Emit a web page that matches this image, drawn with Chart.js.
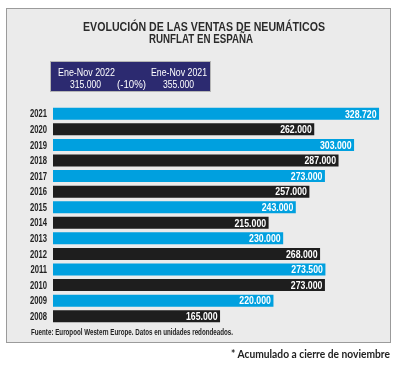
<!DOCTYPE html>
<html><head><meta charset="utf-8">
<script src="https://cdn.jsdelivr.net/npm/chart.js@4/dist/chart.umd.min.js"></script>
<style>
html,body{margin:0;padding:0;background:#fff;width:409px;height:366px;overflow:hidden;}
#panel{position:absolute;left:6px;top:8px;width:383px;height:333px;background:#ebebeb;border:1px solid #9b9b9b;}
#box{position:absolute;left:50px;top:60.5px;width:159px;height:29px;background:#2c2a70;border:1px solid #b5b5b5;}
.t{position:absolute;white-space:nowrap;transform-origin:0 0;}
canvas{position:absolute;left:0;top:0;}
</style></head>
<body>
<div id="panel"></div>
<div id="box"></div>
<canvas id="c" width="409" height="366"></canvas>
<script>
const years = ["2021","2020","2019","2018","2017","2016","2015","2014","2013","2012","2011","2010","2009","2008"];
const sales = [328720,262000,303000,287000,273000,257000,243000,215000,230000,268000,273500,273000,220000,165000];
const valueLabels = ["328.720","262.000","303.000","287.000","273.000","257.000","243.000","215.000","230.000","268.000","273.500","273.000","220.000","165.000"];
const titleLines = ["EVOLUCIÓN DE LAS VENTAS DE NEUMÁTICOS","RUNFLAT EN ESPAÑA"];
const boxTexts = ["Ene-Nov 2022","Ene-Nov 2021","315.000","(-10%)","355.000"];
const sourceText = "Fuente: Europool Western Europe. Datos en unidades redondeados.";
const noteText = "* Acumulado a cierre de noviembre";

const BLUE = "#00a0df", BLACK = "#1e1e1e";
const barColors = years.map((y,i)=> i%2===0 ? BLUE : BLACK);
const SANS = '"Liberation Sans", Arial, sans-serif';

// HTML text placed by baseline and squeezed to a target width
function put(text, o){
  const s = document.createElement('span');
  s.className = 't';
  s.textContent = text;
  const asc = o.asc || 0.8465;
  s.style.fontFamily = o.family || SANS;
  s.style.fontWeight = o.weight || 'bold';
  s.style.fontSize = o.size + 'px';
  s.style.lineHeight = o.size + 'px';
  s.style.color = o.color || '#222';
  document.body.appendChild(s);
  const w = s.getBoundingClientRect().width;
  const k = o.width / w;
  let left;
  if (o.center !== undefined) left = o.center - o.width/2;
  else if (o.right !== undefined) left = o.right - o.width;
  else left = o.left;
  s.style.left = left + 'px';
  s.style.top = (o.baseline - asc*o.size) + 'px';
  s.style.transform = 'scaleX(' + k + ')';
}

put(titleLines[0], {center:204, width:242, baseline:31.5, size:12.5, color:'#2b2b2b'});
put(titleLines[1], {center:201, width:104, baseline:44, size:12.5, color:'#2b2b2b'});
put(boxTexts[0], {left:57.5, width:57, baseline:76.5, size:11, color:'#fff', weight:'normal'});
put(boxTexts[1], {left:150.5, width:56, baseline:76.5, size:11, color:'#fff', weight:'normal'});
put(boxTexts[2], {left:70, width:31, baseline:88, size:11, color:'#fff', weight:'normal'});
put(boxTexts[3], {left:117, width:29, baseline:88, size:11, color:'#fff', weight:'normal'});
put(boxTexts[4], {left:163, width:31, baseline:88, size:11, color:'#fff', weight:'normal'});
put(sourceText, {left:30.5, width:202, baseline:335.5, size:8.8, color:'#222'});
put(noteText, {right:390, width:159, baseline:358.5, size:10.8, color:'#222', family:'Lato, "Open Sans", sans-serif', asc:0.887});

const labelPlugin = {
  id:'labels',
  afterDatasetsDraw(chart){
    const ctx = chart.ctx;
    const meta = chart.getDatasetMeta(0);
    const yScale = chart.scales.y;
    ctx.save();
    // value labels
    ctx.font = 'bold 10.5px ' + SANS;
    ctx.fillStyle = '#fff';
    ctx.textAlign = 'right';
    ctx.textBaseline = 'alphabetic';
    const kv = 31.6 / ctx.measureText("328.720").width;
    meta.data.forEach((bar,i)=>{
      ctx.save();
      ctx.translate(bar.x - 2.5, bar.y + 3.8);
      ctx.scale(kv,1);
      ctx.fillText(valueLabels[i], 0, 0);
      ctx.restore();
    });
    // category labels
    ctx.font = 'bold 10px ' + SANS;
    ctx.fillStyle = '#222';
    const ky = 17 / ctx.measureText("2021").width;
    years.forEach((y,i)=>{
      ctx.save();
      ctx.translate(yScale.right - 6, yScale.getPixelForValue(i) + 3.6);
      ctx.scale(ky,1);
      ctx.fillText(y, 0, 0);
      ctx.restore();
    });
    ctx.restore();
  }
};

new Chart(document.getElementById('c'), {
  type:'bar',
  data:{labels:years, datasets:[{data:sales, backgroundColor:barColors, barPercentage:0.77, categoryPercentage:1, base:-7000}]},
  options:{
    indexAxis:'y', responsive:false, animation:false, devicePixelRatio:1,
    layout:{padding:{top:106,bottom:42,left:0,right:19}},
    plugins:{legend:{display:false},tooltip:{enabled:false}},
    scales:{
      x:{display:false,min:-7000,max:340000},
      y:{grid:{display:false,drawTicks:false},border:{display:false},
         ticks:{display:false},
         afterFit(s){s.width=53;}}
    }
  },
  plugins:[labelPlugin]
});
</script>
</body></html>
